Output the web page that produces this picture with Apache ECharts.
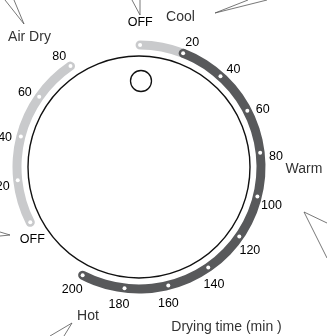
<!DOCTYPE html>
<html>
<head>
<meta charset="utf-8">
<script src="https://cdn.jsdelivr.net/npm/echarts@6/dist/echarts.min.js"></script>
<style>
html, body { margin: 0; padding: 0; background: #fff; }
#chart { width: 327px; height: 336px; }
</style>
</head>
<body>
<div id="chart"></div>
<script>
// timed dry scale (minutes)
var timedTicks = [20, 40, 60, 80, 100, 120, 140, 160, 180, 200];
// air dry scale, runs the other way round from the bottom OFF
var airDryTicks = [0, 20, 40, 60, 80];
var airDryLabels = ['OFF', '20', '40', '60', '80'];
// the OFF stop at the top of the dial
var topOff = [0];

// dial geometry
var SPAN = 347.8;        // minutes for one full turn
var ZERO_DEG = 0.5;      // where 0 min sits, degrees clockwise from 12 o'clock
var ANGLE_MIN = -140;
var AIR_OFFSET = -113.5; // air dry 0 on the timed scale
var CENTER = [139, 167];
var BAND = [117.5, 126.5];
var DOT_R = 122;
var LABEL_R = 137.5;
var TIMED_NUDGE = 1.5;   // labels sit a little clockwise of their dots
var AIR_NUDGE = -1.2;
var DARK = '#58595b';
var LIGHT = '#c9cacc';
var FONT = 'Liberation Sans, Arial, sans-serif';

var myChart = echarts.init(document.getElementById('chart'), null, { renderer: 'canvas' });

// shift: where this axis' 0 sits on the timed scale
function angleAxis(idx, min, shift, showLine) {
  return {
    polarIndex: idx,
    type: 'value',
    min: min,
    max: min + SPAN,
    startAngle: 90 - ZERO_DEG - (min + shift) * 360 / SPAN,
    clockwise: true,
    axisLine: { show: showLine, lineStyle: { color: '#111', width: 1.4 } },
    axisTick: { show: false },
    axisLabel: { show: false },
    splitLine: { show: false }
  };
}
var hidden = { axisLine: { show: false }, axisTick: { show: false }, axisLabel: { show: false }, splitLine: { show: false } };

// dots & labels
var dots = [];
timedTicks.forEach(function (v) { dots.push([DOT_R, v]); });
airDryTicks.forEach(function (t) { dots.push([DOT_R, AIR_OFFSET + t]); });
topOff.forEach(function (v) { dots.push([DOT_R, v]); });

var labels = [];
timedTicks.forEach(function (v) {
  labels.push({ name: String(v), value: [LABEL_R, v + TIMED_NUDGE] });
});
airDryTicks.forEach(function (t, i) {
  var item = { name: airDryLabels[i], value: [LABEL_R, AIR_OFFSET + t + AIR_NUDGE] };
  if (airDryLabels[i] === 'OFF') item.label = { offset: [14.5, 7.5] };
  labels.push(item);
});
topOff.forEach(function (v) {
  labels.push({ name: 'OFF', value: [LABEL_R, v], label: { offset: [0, -6.5] } });
});

var pointers = [
  [[5, 0], [24, 24], [14, 0]],
  [[132, 0], [140, 15], [140, 0]],
  [[248, 0], [215, 13], [267, 0]],
  [[327, 223], [304, 212], [327, 258]],
  [[50, 336], [72, 323], [64, 336]],
  [[0, 232], [10, 235], [0, 236]]
];
var captions = [
  { text: 'Air Dry', x: 29.5, y: 37.5 },
  { text: 'Cool', x: 180.5, y: 17.5 },
  { text: 'Warm', x: 304, y: 169 },
  { text: 'Hot', x: 88, y: 316 },
  { text: 'Drying time (min )', x: 226.5, y: 327 }
];

var graphics = [];
pointers.forEach(function (p) {
  graphics.push({ type: 'polyline', shape: { points: p }, style: { stroke: '#555', lineWidth: 0.8, fill: null }, silent: true });
});
captions.forEach(function (c) {
  graphics.push({
    type: 'text', x: c.x, y: c.y,
    style: { text: c.text, fill: '#333', font: '14px ' + FONT, textAlign: 'center', textVerticalAlign: 'middle' }
  });
});
// knob
graphics.push({ type: 'circle', shape: { cx: 141, cy: 81, r: 10.5 }, style: { stroke: '#111', lineWidth: 1.3, fill: null } });

var options = {
  animation: false,
  polar: [
    { center: CENTER, radius: BAND },     // air dry band
    { center: CENTER, radius: BAND },     // cool + timed band
    { center: CENTER, radius: [0, 140] }, // dots and labels
    { center: CENTER, radius: [0, 111] }  // dial rim
  ],
  angleAxis: [
    angleAxis(0, 0, AIR_OFFSET, false),
    angleAxis(1, 0, 0, false),
    angleAxis(2, ANGLE_MIN, 0, false),
    angleAxis(3, ANGLE_MIN, 0, true)
  ],
  radiusAxis: [
    Object.assign({ polarIndex: 0, type: 'category', data: ['band'] }, hidden),
    Object.assign({ polarIndex: 1, type: 'category', data: ['band'] }, hidden),
    Object.assign({ polarIndex: 2, type: 'value', min: 0, max: 140 }, hidden),
    Object.assign({ polarIndex: 3, type: 'value', min: 0, max: 1 }, hidden)
  ],
  series: [
    // air dry band: bottom OFF to 80
    { type: 'bar', coordinateSystem: 'polar', polarIndex: 0,
      data: [airDryTicks[airDryTicks.length - 1] - airDryTicks[0]],
      roundCap: true, barWidth: '100%', itemStyle: { color: LIGHT } },
    // cool: top OFF to 20, then timed 20 to 200
    { type: 'bar', coordinateSystem: 'polar', polarIndex: 1, stack: 'timed', data: [timedTicks[0] - topOff[0]],
      roundCap: true, barWidth: '100%', itemStyle: { color: LIGHT } },
    { type: 'bar', coordinateSystem: 'polar', polarIndex: 1, stack: 'timed',
      data: [timedTicks[timedTicks.length - 1] - timedTicks[0]],
      roundCap: true, barWidth: '100%', itemStyle: { color: DARK } },
    { type: 'scatter', coordinateSystem: 'polar', polarIndex: 2, data: dots, symbolSize: 4,
      itemStyle: { color: '#fff', opacity: 1 }, z: 5 },
    { type: 'scatter', coordinateSystem: 'polar', polarIndex: 2, data: labels, symbolSize: 0,
      itemStyle: { opacity: 1 },
      label: { show: true, position: 'inside', formatter: '{b}', color: '#000', fontSize: 12.5, fontFamily: FONT,
        offset: [0, 2] },
      z: 6 }
  ],
  graphic: graphics
};
myChart.setOption(options);
</script>
</body>
</html>
